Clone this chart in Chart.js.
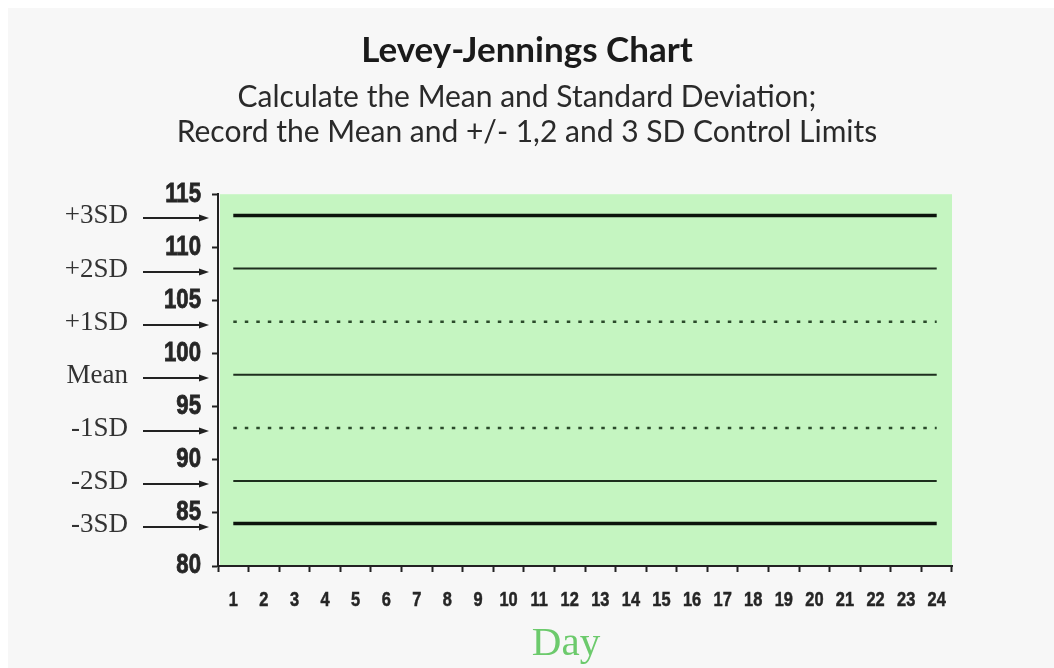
<!DOCTYPE html>
<html>
<head>
<meta charset="utf-8">
<title>Levey-Jennings Chart</title>
<script src="https://cdn.jsdelivr.net/npm/chart.js@4.4.1/dist/chart.umd.min.js"></script>
<style>
  html, body { margin: 0; padding: 0; background: #ffffff; }
</style>
</head>
<body>
<canvas id="ljChart" width="1054" height="668"></canvas>
<script>
// categories (days) and control limit levels
const days = ['1', '2', '3', '4', '5', '6', '7', '8', '9', '10', '11', '12',
              '13', '14', '15', '16', '17', '18', '19', '20', '21', '22', '23', '24'];
const limitNames = ['+3SD', '+2SD', '+1SD', 'Mean', '-1SD', '-2SD', '-3SD'];
const limitValues = [113, 108, 103, 98, 93, 88, 84];
const yMin = 80, yMax = 115, yStep = 5;

// line styles per limit (kept apart from the data)
const lineWidths = [3.5, 2, 2.5, 2, 2.5, 2, 3.5];
const lineDashes = [[], [], [3.5, 8], [], [3.5, 8], [], []];
const lineColors = ['#0c140c', '#1e2e1e', '#2b4a2b', '#1e2e1e', '#2b4a2b', '#1e2e1e', '#0c140c'];

const plotGreen = '#c5f5c1';
const inkColor = '#222';
const narrowBold = 'bold {s}px "Liberation Sans Narrow", "Liberation Sans", Arial, sans-serif';

const datasets = limitValues.map((v, i) => ({
  label: limitNames[i],
  data: [{ x: days[0], y: v }, { x: days[days.length - 1], y: v }],
  borderColor: lineColors[i],
  borderWidth: lineWidths[i],
  borderDash: lineDashes[i],
  borderCapStyle: 'butt',
  pointRadius: 0,
  fill: false
}));

// page background + green plot area
const backdrop = {
  id: 'backdrop',
  beforeDraw(chart) {
    const { ctx, chartArea: a } = chart;
    ctx.save();
    ctx.fillStyle = '#ffffff';
    ctx.fillRect(0, 0, chart.width, chart.height);
    ctx.fillStyle = '#f7f7f7';
    ctx.fillRect(8, 8, chart.width - 8, chart.height - 8);
    ctx.fillStyle = plotGreen;
    ctx.fillRect(a.left + 2, a.top, a.right - a.left - 2, a.bottom - a.top);
    ctx.restore();
  }
};

// condensed bold tick labels, placed from the scales' own ticks
function narrowText(ctx, text, x, y, size, align) {
  ctx.save();
  ctx.font = narrowBold.replace('{s}', size);
  ctx.textAlign = align;
  ctx.textBaseline = 'middle';
  ctx.translate(x, y);
  ctx.scale(0.82, 1);
  ctx.fillText(text, 0, 0);
  ctx.strokeText(text, 0, 0);
  ctx.restore();
}

const tickText = {
  id: 'tickText',
  afterDraw(chart) {
    const ctx = chart.ctx;
    const xs = chart.scales.x, ys = chart.scales.y;
    ctx.save();
    ctx.fillStyle = '#262626';
    ctx.strokeStyle = '#262626';
    ctx.lineWidth = 0.8;
    ys.ticks.forEach(t => {
      narrowText(ctx, String(t.value), 201, ys.getPixelForValue(t.value), 27, 'right');
    });
    ctx.lineWidth = 0.5;
    xs.ticks.forEach((t, i) => {
      narrowText(ctx, days[i], xs.getPixelForTick(i), 600, 20, 'center');
    });
    ctx.restore();
  }
};

// "+3SD ---->" style pointers on the left, and the "Day" caption
const sideNotes = {
  id: 'sideNotes',
  afterDraw(chart) {
    const ctx = chart.ctx;
    const y = chart.scales.y;
    ctx.save();
    ctx.font = '27px "Liberation Serif", "DejaVu Serif", serif';
    ctx.textAlign = 'right';
    ctx.textBaseline = 'middle';
    limitValues.forEach((v, i) => {
      const py = Math.round(y.getPixelForValue(v)) + 1;
      ctx.fillStyle = '#333';
      ctx.fillText(limitNames[i], 128, py);
      ctx.strokeStyle = '#222';
      ctx.lineWidth = 2;
      ctx.beginPath();
      ctx.moveTo(143, py + 2);
      ctx.lineTo(200, py + 2);
      ctx.stroke();
      ctx.fillStyle = '#222';
      ctx.beginPath();
      ctx.moveTo(209, py + 2);
      ctx.lineTo(199, py - 1.5);
      ctx.lineTo(199, py + 5.5);
      ctx.closePath();
      ctx.fill();
    });
    ctx.font = '41px "Liberation Serif", "DejaVu Serif", serif';
    ctx.textAlign = 'center';
    ctx.textBaseline = 'alphabetic';
    ctx.fillStyle = '#6cca6c';
    ctx.fillText('Day', 566, 655);
    ctx.restore();
  }
};

const ljChart = new Chart(document.getElementById('ljChart'), {
  type: 'line',
  data: { labels: days, datasets: datasets },
  plugins: [backdrop, tickText, sideNotes],
  options: {
    responsive: false,
    animation: false,
    layout: { padding: 0 },
    plugins: {
      legend: { display: false },
      tooltip: { enabled: false },
      title: {
        display: true,
        text: 'Levey-Jennings Chart',
        color: '#1a1a1a',
        font: { family: 'Lato', size: 35, weight: 'bold', lineHeight: 1.2 },
        padding: { top: 30, bottom: 8 }
      },
      subtitle: {
        display: true,
        text: ['Calculate the Mean and Standard Deviation;',
               'Record the Mean and +/- 1,2 and 3 SD Control Limits'],
        color: '#2a2a2a',
        font: { family: 'Lato', size: 30, lineHeight: 1.17 },
        padding: { top: 0, bottom: 44 }
      }
    },
    scales: {
      x: {
        type: 'category',
        offset: true,
        afterFit(scale) { scale.height = 102; },
        border: { display: true, color: inkColor, width: 2 },
        grid: { display: true, offset: true, drawOnChartArea: false, drawTicks: true,
                tickLength: 6, color: inkColor, tickWidth: 2 },
        ticks: { display: false, autoSkip: false }
      },
      y: {
        min: yMin,
        max: yMax,
        afterFit(scale) { scale.width = 218; },
        border: { display: true, color: inkColor, width: 2 },
        grid: { display: true, drawOnChartArea: false, drawTicks: true,
                tickLength: 6, color: inkColor, tickWidth: 2 },
        ticks: { stepSize: yStep, display: false }
      },
      // empty right-hand strip, keeps the plot clear of the right edge
      yRight: {
        position: 'right',
        min: yMin,
        max: yMax,
        afterFit(scale) { scale.width = 102; },
        border: { display: false },
        grid: { display: false },
        ticks: { display: false }
      }
    }
  }
});
</script>
</body>
</html>
